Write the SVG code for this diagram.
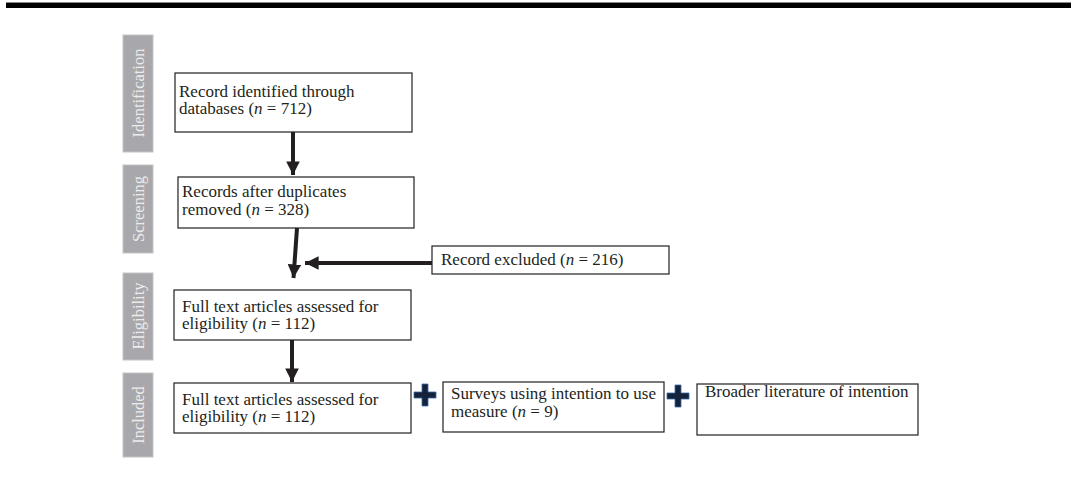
<svg xmlns="http://www.w3.org/2000/svg" width="1071" height="477" viewBox="0 0 1071 477">
<defs>
<style>
.stage{fill:#a8a8ac;stroke:#c4c4c6;stroke-width:1}
.stxt{font-family:"Liberation Serif",serif;font-size:16.5px;fill:#ececec;text-anchor:middle}
.box{fill:#fff;stroke:#231f20;stroke-width:1.2}
.t{font-family:"Liberation Serif",serif;font-size:17px;fill:#231f20}
.conn{stroke:#231f20;stroke-width:4;fill:none}
.plus{fill:#15233a;stroke:#3a6aa8;stroke-width:0.8}
</style>
<marker id="ah" viewBox="0 0 10 10" refX="10" refY="5" markerWidth="3.4" markerHeight="3.4" markerUnits="strokeWidth" orient="auto">
<path d="M0,0 L10,5 L0,10 z" fill="#231f20"/>
</marker>
</defs>
<rect x="6" y="2" width="1065" height="6" fill="#000"/>
<line x1="6" y1="2.5" x2="1071" y2="2.5" stroke="#888" stroke-width="1"/>

<g id="stage-identification"><rect class="stage" x="123" y="35" width="30" height="117"/><text class="stxt" transform="translate(143.5,93) rotate(-90)">Identification</text></g>
<g id="stage-screening"><rect class="stage" x="123" y="165" width="30" height="88"/><text class="stxt" transform="translate(143.5,209) rotate(-90)">Screening</text></g>
<g id="stage-eligibility"><rect class="stage" x="123" y="273" width="30" height="87"/><text class="stxt" transform="translate(143.5,316) rotate(-90)">Eligibility</text></g>
<g id="stage-included"><rect class="stage" x="123" y="373" width="30" height="84"/><text class="stxt" transform="translate(143.5,415) rotate(-90)">Included</text></g>

<g id="node-identified"><rect class="box" x="175" y="73" width="237" height="59"/><text class="t" x="179" y="97">Record identified through</text><text class="t" x="179" y="114">databases (<tspan font-style="italic">n</tspan> = 712)</text></g>
<g id="node-screened"><rect class="box" x="178" y="177" width="236" height="51"/><text class="t" x="182" y="197">Records after duplicates</text><text class="t" x="182" y="215">removed (<tspan font-style="italic">n</tspan> = 328)</text></g>
<g id="node-excluded"><rect class="box" x="432" y="246" width="237" height="28"/><text class="t" x="441" y="265">Record excluded (<tspan font-style="italic">n</tspan> = 216)</text></g>
<g id="node-eligibility"><rect class="box" x="174" y="290" width="237" height="50"/><text class="t" x="182" y="312">Full text articles assessed for</text><text class="t" x="182" y="329">eligibility (<tspan font-style="italic">n</tspan> = 112)</text></g>
<g id="node-included"><rect class="box" x="174" y="383" width="237" height="50"/><text class="t" x="182" y="405">Full text articles assessed for</text><text class="t" x="182" y="422">eligibility (<tspan font-style="italic">n</tspan> = 112)</text></g>
<g id="node-surveys"><rect class="box" x="443" y="382" width="221" height="50"/><text class="t" x="451" y="399">Surveys using intention to use</text><text class="t" x="451" y="417">measure (<tspan font-style="italic">n</tspan> = 9)</text></g>
<g id="node-broader"><rect class="box" x="697" y="384" width="221" height="51"/><text class="t" x="705" y="397">Broader literature of intention</text></g>

<g id="plus-signs">
<path class="plus" d="M422,384 h6 v8 h8 v6 h-8 v8 h-6 v-8 h-8 v-6 h8 z"/>
<path class="plus" d="M675,385 h6 v8 h8 v6 h-8 v8 h-6 v-8 h-8 v-6 h8 z"/>
</g>

<g id="connectors">
<line class="conn" x1="293" y1="132" x2="293" y2="175" marker-end="url(#ah)"/>
<line class="conn" x1="297" y1="228" x2="293.5" y2="278" marker-end="url(#ah)"/>
<line class="conn" x1="432" y1="263" x2="305" y2="263" marker-end="url(#ah)"/>
<line class="conn" x1="292" y1="340" x2="292" y2="382" marker-end="url(#ah)"/>
</g>
</svg>
